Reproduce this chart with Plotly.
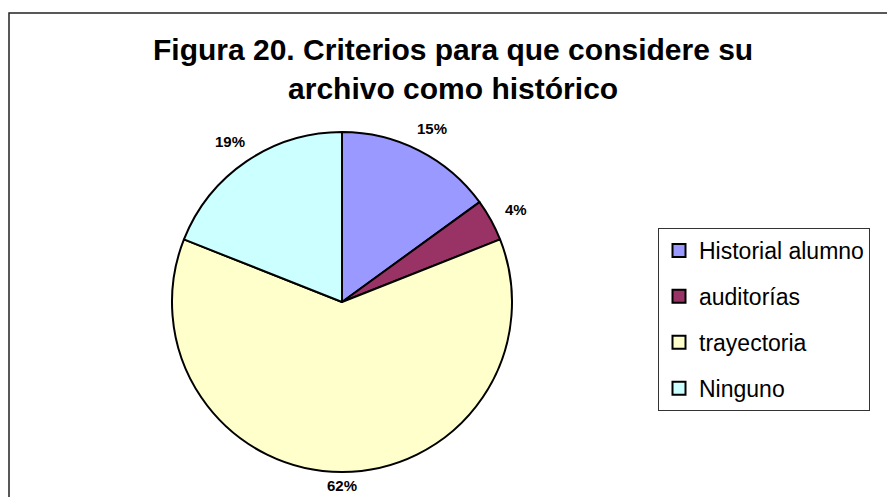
import math
import plotly.graph_objects as go

categories = ["Historial alumno", "auditorías", "trayectoria", "Ninguno"]
values = [15, 4, 62, 19]
colors = ["#9999FF", "#993366", "#FFFFCC", "#CCFFFF"]
title_text = "Figura 20. Criterios para que considere su<br>archivo como histórico"

W, H = 887, 497
cx, cy, r = 342, 302, 170
FONT = "Liberation Sans, Arial, sans-serif"

fig = go.Figure(go.Pie(
    labels=categories, values=values, sort=False, direction="clockwise", rotation=0,
    marker=dict(colors=colors, line=dict(color="black", width=2)),
    textinfo="none",
    domain=dict(x=[(cx - r) / W, (cx + r) / W], y=[(H - cy - r) / H, (H - cy + r) / H]),
    hoverinfo="skip", automargin=False, showlegend=False,
))

# legend entries (one group per category so the spacing can be set)
for name, col in zip(categories, colors):
    fig.add_trace(go.Scatter(
        x=[None], y=[None], mode="markers", name=name, legendgroup=name,
        marker=dict(symbol="square", size=13, color=col, line=dict(color="black", width=2)),
        hoverinfo="skip",
    ))

# percentage labels placed outside each slice, at the slice's mid angle
annotations = []
total = sum(values)
cum = 0
for v in values:
    theta = 2 * math.pi * (cum + v / 2) / total
    cum += v
    R = r + 13 + 12 * (1 + math.cos(theta)) / 2
    px = cx + (R + 8 * abs(math.sin(theta))) * math.sin(theta)
    py = cy - R * math.cos(theta)
    annotations.append(dict(
        text="<b>%d%%</b>" % round(100 * v / total), x=px / W, y=1 - py / H,
        xref="paper", yref="paper", xanchor="center", yanchor="middle", showarrow=False,
        font=dict(family=FONT, size=15, color="black")))

annotations.append(dict(text="<b>" + title_text + "</b>", x=453 / W, y=1 - 31 / H,
                        xref="paper", yref="paper", xanchor="center", yanchor="top",
                        showarrow=False, align="center",
                        font=dict(family=FONT, size=30, color="black")))

fig.update_layout(
    width=W, height=H, margin=dict(l=0, r=0, t=0, b=0),
    paper_bgcolor="white", plot_bgcolor="white",
    xaxis=dict(visible=False), yaxis=dict(visible=False),
    showlegend=True,
    legend=dict(x=658 / W, y=1 - 228 / H, xanchor="left", yanchor="top",
                bordercolor="#333333", borderwidth=1, bgcolor="white",
                tracegroupgap=13, itemwidth=30,
                font=dict(family=FONT, size=23, color="black")),
    annotations=annotations,
    shapes=[dict(type="rect", xref="paper", yref="paper", x0=9 / W, x1=1.05, y0=-0.05, y1=1 - 13 / H,
                 line=dict(color="#222222", width=1.5), fillcolor="rgba(0,0,0,0)")],
)

fig.write_html("out.html", config={"displayModeBar": False},
               post_script="document.body.style.margin='0px';")
